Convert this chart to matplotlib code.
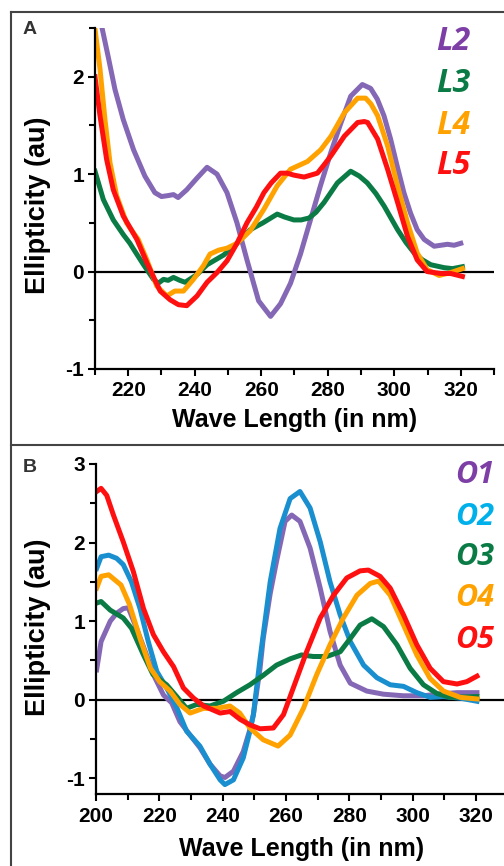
import matplotlib
matplotlib.use("Agg")
import matplotlib.pyplot as plt
from matplotlib.lines import Line2D
from matplotlib.ticker import MultipleLocator

# Panel A (L series), wavelength in nm / ellipticity in au
L2_nm = [210, 212, 214, 216, 218.5, 221.6, 225, 228, 230, 232, 233.6, 235, 237.6, 240.7, 243.7,
         246.7, 249.7, 252.7, 255.7, 259.2, 262.8, 265.8, 268.8, 271.8, 274.8, 277.8, 280.9, 283.9,
         286.9, 290.4, 292.9, 294.9, 296.9, 298.9, 300.9, 302.9, 304.9, 306.9, 309, 312, 316, 318, 320]
L2_val = [2.9, 2.52, 2.2, 1.87, 1.56, 1.25, 0.98, 0.81, 0.77, 0.78, 0.79, 0.76, 0.84, 0.96, 1.07,
          1.0, 0.81, 0.5, 0.12, -0.3, -0.46, -0.33, -0.12, 0.18, 0.53, 0.88, 1.22, 1.52,
          1.8, 1.92, 1.88, 1.77, 1.6, 1.36, 1.08, 0.81, 0.6, 0.43, 0.33, 0.26, 0.28, 0.27, 0.29]

L3_nm = [210, 212.5, 215.5, 218.5, 220.5, 221.6, 224.6, 227.6, 229, 230.6, 232, 233.6, 235.5, 237.1,
         240.7, 243.7, 248.7, 252.7, 256.7, 260.5, 264.8, 267, 269.8, 272, 274.4, 276.5, 278.9,
         282.9, 286.9, 289.5, 291.9, 294.5, 297, 301, 303.5, 306, 308.5, 311, 315, 317.5, 320.5]
L3_val = [1.03, 0.74, 0.53, 0.38, 0.29, 0.23, 0.07, -0.08, -0.12, -0.08, -0.09, -0.06, -0.09, -0.11,
          -0.03, 0.07, 0.17, 0.29, 0.43, 0.5, 0.59, 0.56, 0.53, 0.53, 0.55, 0.61, 0.71,
          0.91, 1.03, 0.98, 0.91, 0.8, 0.67, 0.43, 0.3, 0.19, 0.12, 0.07, 0.04, 0.03, 0.05]

L4_nm = [210, 211.5, 213, 214.5, 216.5, 219.5, 221.5, 223, 225.6, 228.6, 231.6, 234, 236.6, 239.6,
         242.6, 244.6, 247.2, 249.7, 252.7, 256.7, 260.8, 264.8, 268.8, 273.9, 277.9, 281, 285,
         289, 291.4, 293, 295, 298, 301, 304, 306.9, 309.9, 313.5, 317, 320.5]
L4_val = [2.49, 2.08, 1.56, 1.12, 0.78, 0.5, 0.4, 0.33, 0.12, -0.15, -0.25, -0.2, -0.2, -0.08,
          0.06, 0.18, 0.22, 0.24, 0.29, 0.42, 0.64, 0.88, 1.05, 1.13, 1.25, 1.39, 1.63,
          1.78, 1.78, 1.72, 1.6, 1.29, 0.88, 0.5, 0.19, 0.02, -0.04, -0.01, 0.03]

L5_nm = [210, 211.5, 213.5, 215.5, 218.5, 222.6, 225.6, 229.6, 232.6, 235.1, 237.6, 240.7, 243.7,
         246.7, 249.7, 252.7, 255.7, 258.5, 260.8, 263, 265.8, 267.8, 269.8, 272.9, 276.9, 279,
         281, 285, 289, 291, 292, 295, 298, 301, 304, 306.9, 309.9, 314, 317, 320.5]
L5_val = [2.0, 1.6, 1.15, 0.84, 0.57, 0.33, 0.09, -0.2, -0.29, -0.34, -0.35, -0.25, -0.11,
          -0.01, 0.11, 0.29, 0.5, 0.66, 0.81, 0.91, 1.01, 1.01, 0.99, 0.97, 1.01, 1.1,
          1.19, 1.39, 1.53, 1.54, 1.53, 1.36, 1.05, 0.71, 0.36, 0.12, 0.0, -0.02, -0.02, -0.05]

# Panel B (O series)
O1_nm = [200.2, 201.6, 204.5, 206.5, 208.6, 210.2, 212.8, 215.5, 218.6, 221.3, 223.9, 226.5, 229.7,
         232.8, 236, 239.2, 240.7, 243.4, 246.5, 248.6, 249.7, 251.8, 252.8, 255, 257, 259.7,
         261.8, 264.4, 267.6, 270.8, 273.9, 277.1, 280.3, 285.5, 290.8, 297.1, 303.4, 307.6, 314, 320.3]
O1_val = [0.38, 0.74, 1.0, 1.1, 1.16, 1.17, 0.91, 0.62, 0.28, 0.06, -0.04, -0.28, -0.45,
          -0.61, -0.82, -0.97, -0.99, -0.91, -0.66, -0.38, -0.19, 0.4, 0.78, 1.35, 1.76, 2.27,
          2.35, 2.27, 1.93, 1.42, 0.87, 0.44, 0.21, 0.11, 0.07, 0.05, 0.05, 0.07, 0.09, 0.09]

O2_nm = [200.2, 201.6, 204, 206.5, 208.6, 211.2, 213.9, 216.5, 219.2, 222.3, 225.5, 228.6, 232.8,
         236, 239.2, 240.7, 243.4, 246.5, 248.6, 249.7, 251.8, 255, 258.1, 261.3, 264.4, 267.6,
         270.8, 273.9, 277.1, 280.3, 284.5, 288.7, 292.9, 297.1, 301.3, 305.5, 309.7, 315, 320.3]
O2_val = [1.67, 1.82, 1.84, 1.8, 1.72, 1.5, 1.16, 0.74, 0.36, 0.15, -0.1, -0.4, -0.59,
          -0.82, -1.02, -1.08, -1.02, -0.74, -0.4, -0.19, 0.52, 1.5, 2.18, 2.56, 2.65, 2.44,
          2.01, 1.5, 1.08, 0.74, 0.44, 0.28, 0.19, 0.17, 0.09, 0.03, 0.04, 0.02, -0.02]

O3_nm = [200.2, 201.6, 204.5, 208.6, 211.2, 215, 218, 222.3, 225.5, 228.6, 231.8, 236, 240.2, 244.4,
         248.6, 252.8, 257, 261.3, 264.9, 268.6, 272.8, 277.1, 280.3, 283.4, 287.1, 290.8, 295,
         299.2, 303.4, 307.6, 311.8, 320.3]
O3_val = [1.23, 1.25, 1.14, 1.04, 0.91, 0.57, 0.32, 0.19, 0.04, -0.11, -0.06, -0.08, -0.02, 0.09,
          0.19, 0.31, 0.44, 0.52, 0.57, 0.55, 0.55, 0.61, 0.78, 0.95, 1.03, 0.93, 0.7,
          0.4, 0.19, 0.08, 0.03, 0.04]

O4_nm = [200.2, 201.6, 204, 207.9, 210.6, 213.9, 217.2, 220.1, 223.4, 226.5, 229.7, 233.9, 238.1,
         242.3, 245.4, 248.6, 252.8, 257.5, 261.3, 265.5, 269.7, 273.9, 278.1, 282.4, 286.6, 289.2,
         292.9, 297.1, 301.3, 305.5, 309.7, 315, 320.3]
O4_val = [1.42, 1.57, 1.59, 1.46, 1.21, 0.78, 0.4, 0.23, 0.11, -0.06, -0.17, -0.11, -0.11,
          -0.08, -0.17, -0.36, -0.51, -0.59, -0.45, -0.11, 0.32, 0.7, 1.04, 1.33, 1.48, 1.51,
          1.33, 0.95, 0.57, 0.27, 0.11, 0.03, 0.01]

O5_nm = [200.2, 201.6, 203.4, 205.5, 208.6, 211.8, 215, 218.1, 221.3, 224.5, 227.6, 230.8, 234,
         239.2, 242.3, 245.5, 248.6, 251.8, 256, 259.2, 262.3, 266.5, 270.8, 275, 279.2, 283.4,
         286, 289.7, 292.9, 297.1, 301.3, 305.5, 309.7, 314, 317.1, 320.3]
O5_val = [2.65, 2.69, 2.6, 2.35, 2.01, 1.63, 1.16, 0.83, 0.61, 0.42, 0.15, 0.02, -0.08,
          -0.17, -0.15, -0.25, -0.32, -0.37, -0.36, -0.19, 0.15, 0.61, 1.04, 1.33, 1.55, 1.64,
          1.65, 1.57, 1.42, 1.08, 0.7, 0.4, 0.23, 0.2, 0.23, 0.3]

purple, green, orange, red, blue = "#8568b5", "#0b7b45", "#ffa200", "#ff1010", "#1a8fcf"
lab_purple, lab_blue = "#7d3fa6", "#00b0ea"

plt.rcParams["font.family"] = ["Liberation Sans", "DejaVu Sans"]
plt.rcParams["font.weight"] = "bold"
plt.rcParams["axes.unicode_minus"] = False
plt.rcParams["lines.solid_joinstyle"] = "round"

fig = plt.figure(figsize=(5.04, 8.66), dpi=100)
W, H = 504, 866


def make_axes(left, right, top, bottom):
    return fig.add_axes([left / W, 1 - bottom / H, (right - left) / W, (bottom - top) / H])


def style(ax):
    for s in ["top", "right"]:
        ax.spines[s].set_visible(False)
    for s in ["left", "bottom"]:
        ax.spines[s].set_linewidth(1.6)
    ax.axhline(0, color="black", lw=1.6, zorder=1)
    ax.xaxis.set_major_locator(MultipleLocator(20))
    ax.xaxis.set_minor_locator(MultipleLocator(10))
    ax.yaxis.set_major_locator(MultipleLocator(1))
    ax.yaxis.set_minor_locator(MultipleLocator(0.5))
    ax.tick_params(axis="both", which="major", length=5, width=1.5, labelsize=15)
    ax.tick_params(axis="both", which="minor", length=4, width=1.5)
    ax.tick_params(axis="x", pad=4)
    ax.tick_params(axis="y", pad=3)


lw = 3.6

# ---- panel A
axA = make_axes(95, 494, 28, 369)
style(axA)
axA.set_xlim(210, 330)
axA.set_ylim(-1, 2.5)
axA.xaxis.set_major_locator(plt.FixedLocator([220, 240, 260, 280, 300, 320]))
axA.plot(L2_nm, L2_val, color=purple, lw=lw)
axA.plot(L3_nm, L3_val, color=green, lw=lw)
axA.plot(L4_nm, L4_val, color=orange, lw=lw)
axA.plot(L5_nm, L5_val, color=red, lw=lw)
axA.set_xlabel("Wave Length (in nm)", fontsize=18, fontweight="bold", va="center")
axA.set_ylabel("Ellipticity (au)", fontsize=19.5, fontweight="bold", va="center")
axA.xaxis.set_label_coords(0.5, -0.15)
axA.yaxis.set_label_coords(-0.143, 0.48)

# ---- panel B
axB = make_axes(96, 507.7, 464, 794)
style(axB)
axB.set_xlim(200, 330)
axB.set_ylim(-1.2, 3)
axB.xaxis.set_major_locator(plt.FixedLocator([200, 220, 240, 260, 280, 300, 320]))
axB.plot(O1_nm, O1_val, color=purple, lw=lw)
axB.plot(O2_nm, O2_val, color=blue, lw=lw)
axB.plot(O3_nm, O3_val, color=green, lw=lw)
axB.plot(O4_nm, O4_val, color=orange, lw=lw)
axB.plot(O5_nm, O5_val, color=red, lw=lw)
axB.set_xlabel("Wave Length (in nm)", fontsize=18, fontweight="bold", va="center")
axB.set_ylabel("Ellipticity (au)", fontsize=19.5, fontweight="bold", va="center")
axB.xaxis.set_label_coords(0.5, -0.167)
axB.yaxis.set_label_coords(-0.141, 0.505)

# series names
lab_font = dict(family=["Open Sans", "Lato", "DejaVu Sans"], style="italic", weight="bold",
                ha="center", va="center")
for name, col, y in zip(["L2", "L3", "L4", "L5"], [lab_purple, green, orange, red], [42, 83, 125, 166]):
    fig.text(453 / W, 1 - y / H, name, color=col, fontsize=23, **lab_font)
for name, col, y in zip(["O1", "O2", "O3", "O4", "O5"], [lab_purple, lab_blue, green, orange, red],
                        [475, 517, 557, 598, 640]):
    fig.text(475 / W, 1 - y / H, name, color=col, fontsize=22, **lab_font)

# panel letters
fig.text(30 / W, 1 - 30 / H, "A", fontsize=14, fontweight="bold", color="#333333", ha="center", va="center")
fig.text(30 / W, 1 - 467 / H, "B", fontsize=14, fontweight="bold", color="#333333", ha="center", va="center")

# frame lines
fc = "#444444"
fig.add_artist(Line2D([11 / W, 11 / W], [0, 1 - 12 / H], color=fc, lw=1.5))
fig.add_artist(Line2D([11 / W, 1], [1 - 12 / H, 1 - 12 / H], color=fc, lw=1.5))
fig.add_artist(Line2D([11 / W, 1], [1 - 445 / H, 1 - 445 / H], color=fc, lw=1.5))

fig.savefig("out.png", dpi=100)
